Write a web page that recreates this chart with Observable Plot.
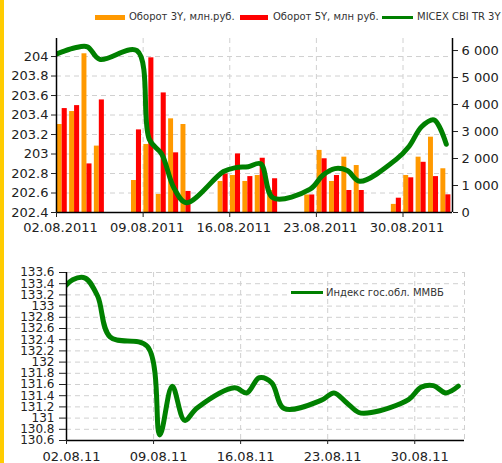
<!DOCTYPE html>
<html><head><meta charset="utf-8">
<script src="https://cdn.jsdelivr.net/npm/d3@7"></script>
<script src="https://cdn.jsdelivr.net/npm/@observablehq/plot@0.6"></script>
<style>
body{margin:0;background:#fff;font-family:"DejaVu Sans",sans-serif;}
#wrap{position:relative;width:502px;height:463px;overflow:hidden;background:#fff;}
#wrap svg{position:absolute;left:0;}
.strip{position:absolute;left:0;top:0;width:4px;height:463px;background:#FFCC00;}
.sw{position:absolute;}
.lt{position:absolute;font-size:10px;color:#333;white-space:nowrap;line-height:12px;}
</style></head><body><div id="wrap"><div class="strip"></div></div><script>
// ---- data ----
const barDates = ["2011-08-02","2011-08-03","2011-08-04","2011-08-05","2011-08-08","2011-08-09","2011-08-10","2011-08-11","2011-08-12","2011-08-15","2011-08-16","2011-08-17","2011-08-18","2011-08-19","2011-08-22","2011-08-23","2011-08-24","2011-08-25","2011-08-26","2011-08-29","2011-08-30","2011-08-31","2011-09-01","2011-09-02"];
const vol3Y = [3260,3740,5880,2460,1185,2520,670,3470,3260,1150,1370,1150,1370,815,650,2300,1150,2050,1740,300,1370,2050,2790,1620];
const vol5Y = [3850,3960,1800,4170,3060,5730,4430,2210,780,1430,2170,1330,2010,1250,650,1990,1370,815,815,530,1285,1860,1330,655];
const lineDates = ["2011-08-01"].concat(barDates);
const cbiTR3Y = [204.0,204.05,204.09,204.1,203.97,204.06,203.15,203.0,202.65,202.5,202.82,202.86,202.87,202.9,202.55,202.64,202.78,202.85,202.83,202.72,202.95,203.08,203.28,203.35,203.1];
const mmvb = [133.25,133.47,133.5,133.18,132.45,132.28,130.7,131.57,130.96,131.18,131.54,131.45,131.72,131.63,131.17,131.32,131.45,131.28,131.1,131.1,131.33,131.55,131.58,131.45,131.57];
const leftTicks = [202.4,202.6,202.8,203,203.2,203.4,203.6,203.8,204];
const rightTicks = [0,1000,2000,3000,4000,5000,6000];
const bottomTicks = [130.6,130.8,131,131.2,131.4,131.6,131.8,132,132.2,132.4,132.6,132.8,133,133.2,133.4,133.6];
const weekTicks = ["2011-08-02","2011-08-09","2011-08-16","2011-08-23","2011-08-30"];
const legendTop = ["Оборот 3Y, млн.руб.","Оборот 5Y, млн руб.","MICEX CBI TR 3Y"];
const legendBottom = "Индекс гос.обл. ММВБ";

const C_OR = "#FF9900", C_RED = "#FF0000", C_GR = "#008000";
const day = 864e5;
const D = s => new Date(s + "T00:00:00Z");
const xDomain = [D("2011-08-02"), D("2011-09-03")];
const wt = weekTicks.map(D);

// map volumes onto left scale
const yLo = 202.4, yTopL = 204.185;
const k = (204.0615 - 202.4) / 6000;
const vmap = v => yLo + v * k;

const bars = barDates.map((d, i) => ({t: D(d), v3: vol3Y[i], v5: vol5Y[i]}));
const pts = lineDates.map((d, i) => ({t: new Date(+D(d) + day / 2), a: cbiTR3Y[i], b: mmvb[i]}));

const grid = {stroke: "#d0d0d0", strokeOpacity: 1, strokeDasharray: "5,4"};

const topChart = Plot.plot({
  width: 502, height: 240,
  marginLeft: 56, marginRight: 50, marginTop: 38, marginBottom: 28,
  style: {fontFamily: "DejaVu Sans", fontSize: "13px", color: "#222", background: "transparent"},
  x: {type: "utc", domain: xDomain},
  y: {domain: [yLo, yTopL]},
  marks: [
    Plot.gridY(leftTicks, grid),
    Plot.gridX(wt.slice(1), grid),
    Plot.rectY(bars, {x1: d => new Date(+d.t + 0.06 * day), x2: d => new Date(+d.t + 0.46 * day), y1: () => yLo, y2: d => vmap(d.v3), fill: C_OR}),
    Plot.rectY(bars, {x1: d => new Date(+d.t + 0.46 * day), x2: d => new Date(+d.t + 0.87 * day), y1: () => yLo, y2: d => vmap(d.v5), fill: C_RED}),
    Plot.line(pts, {x: "t", y: "a", curve: "catmull-rom", stroke: C_GR, strokeWidth: 5, clip: true}),
    Plot.ruleY([yLo], {stroke: "#000", strokeWidth: 1.5}),
    Plot.ruleX([xDomain[0]], {stroke: "#000", strokeWidth: 1.5}),
    Plot.ruleX([xDomain[1]], {stroke: "#000", strokeWidth: 1.5}),
    Plot.axisY(leftTicks, {tickFormat: d => String(+d.toFixed(1)), tickSize: 5, tickPadding: 3, fontSize: 13, label: null}),
    Plot.axisY(rightTicks.map(vmap), {anchor: "right", tickFormat: d => String(Math.round((d - yLo) / k / 1000) * 1000).replace(/\B(?=(\d{3})+$)/g, " "), tickSize: 5, tickPadding: 4, fontSize: 13, label: null}),
    Plot.axisX(wt, {tickSize: 5, tickFormat: () => "", label: null}),
    Plot.axisX(wt, {tickFormat: d3.utcFormat("%d.%m.%Y"), tickSize: 0, tickPadding: 10, fontSize: 13, dx: 4, label: null})
  ]
});
topChart.style.top = "0px";

const botChart = Plot.plot({
  width: 502, height: 223,
  marginLeft: 66, marginRight: 38, marginTop: 32, marginBottom: 23,
  style: {fontFamily: "DejaVu Sans", fontSize: "13px", color: "#222", background: "transparent"},
  x: {type: "utc", domain: xDomain},
  y: {domain: [130.6, 133.6]},
  marks: [
    Plot.gridY(bottomTicks, grid),
    Plot.gridX(wt.slice(1).concat([xDomain[1]]), grid),
    Plot.line(pts, {x: "t", y: "b", curve: "catmull-rom", stroke: C_GR, strokeWidth: 5, clip: true}),
    Plot.ruleY([130.6], {stroke: "#000", strokeWidth: 1.5}),
    Plot.ruleX([xDomain[0]], {stroke: "#000", strokeWidth: 1.5}),
    Plot.axisY(bottomTicks, {tickFormat: d => String(+d.toFixed(1)), tickSize: 7, tickPadding: 5, fontSize: 12, label: null}),
    Plot.axisX(wt, {tickSize: 4, tickFormat: () => "", label: null}),
    Plot.axisX(wt, {tickFormat: d3.utcFormat("%d.%m.%y"), tickSize: 0, tickPadding: 11, fontSize: 13, dx: 5, label: null})
  ]
});
botChart.style.top = "240px";

const wrap = document.getElementById("wrap");
wrap.appendChild(topChart);
wrap.appendChild(botChart);

function el(cls, css, text) {
  const e = document.createElement("div");
  e.className = cls;
  Object.assign(e.style, css);
  if (text) e.textContent = text;
  wrap.appendChild(e);
  return e;
}
// top legend
el("sw", {left: "95px", top: "15px", width: "30px", height: "5px", background: C_OR});
el("lt", {left: "129px", top: "11px"}, legendTop[0]);
el("sw", {left: "240px", top: "15px", width: "28px", height: "5px", background: C_RED});
el("lt", {left: "273px", top: "11px"}, legendTop[1]);
el("sw", {left: "382px", top: "16px", width: "31px", height: "3px", background: C_GR});
el("lt", {left: "417px", top: "11px"}, legendTop[2]);
// bottom legend
el("sw", {left: "288px", top: "287px", width: "176px", height: "12px", background: "#fff"});
el("sw", {left: "291px", top: "291px", width: "32px", height: "3px", background: C_GR});
el("lt", {left: "326px", top: "287px"}, legendBottom);
</script></body></html>
